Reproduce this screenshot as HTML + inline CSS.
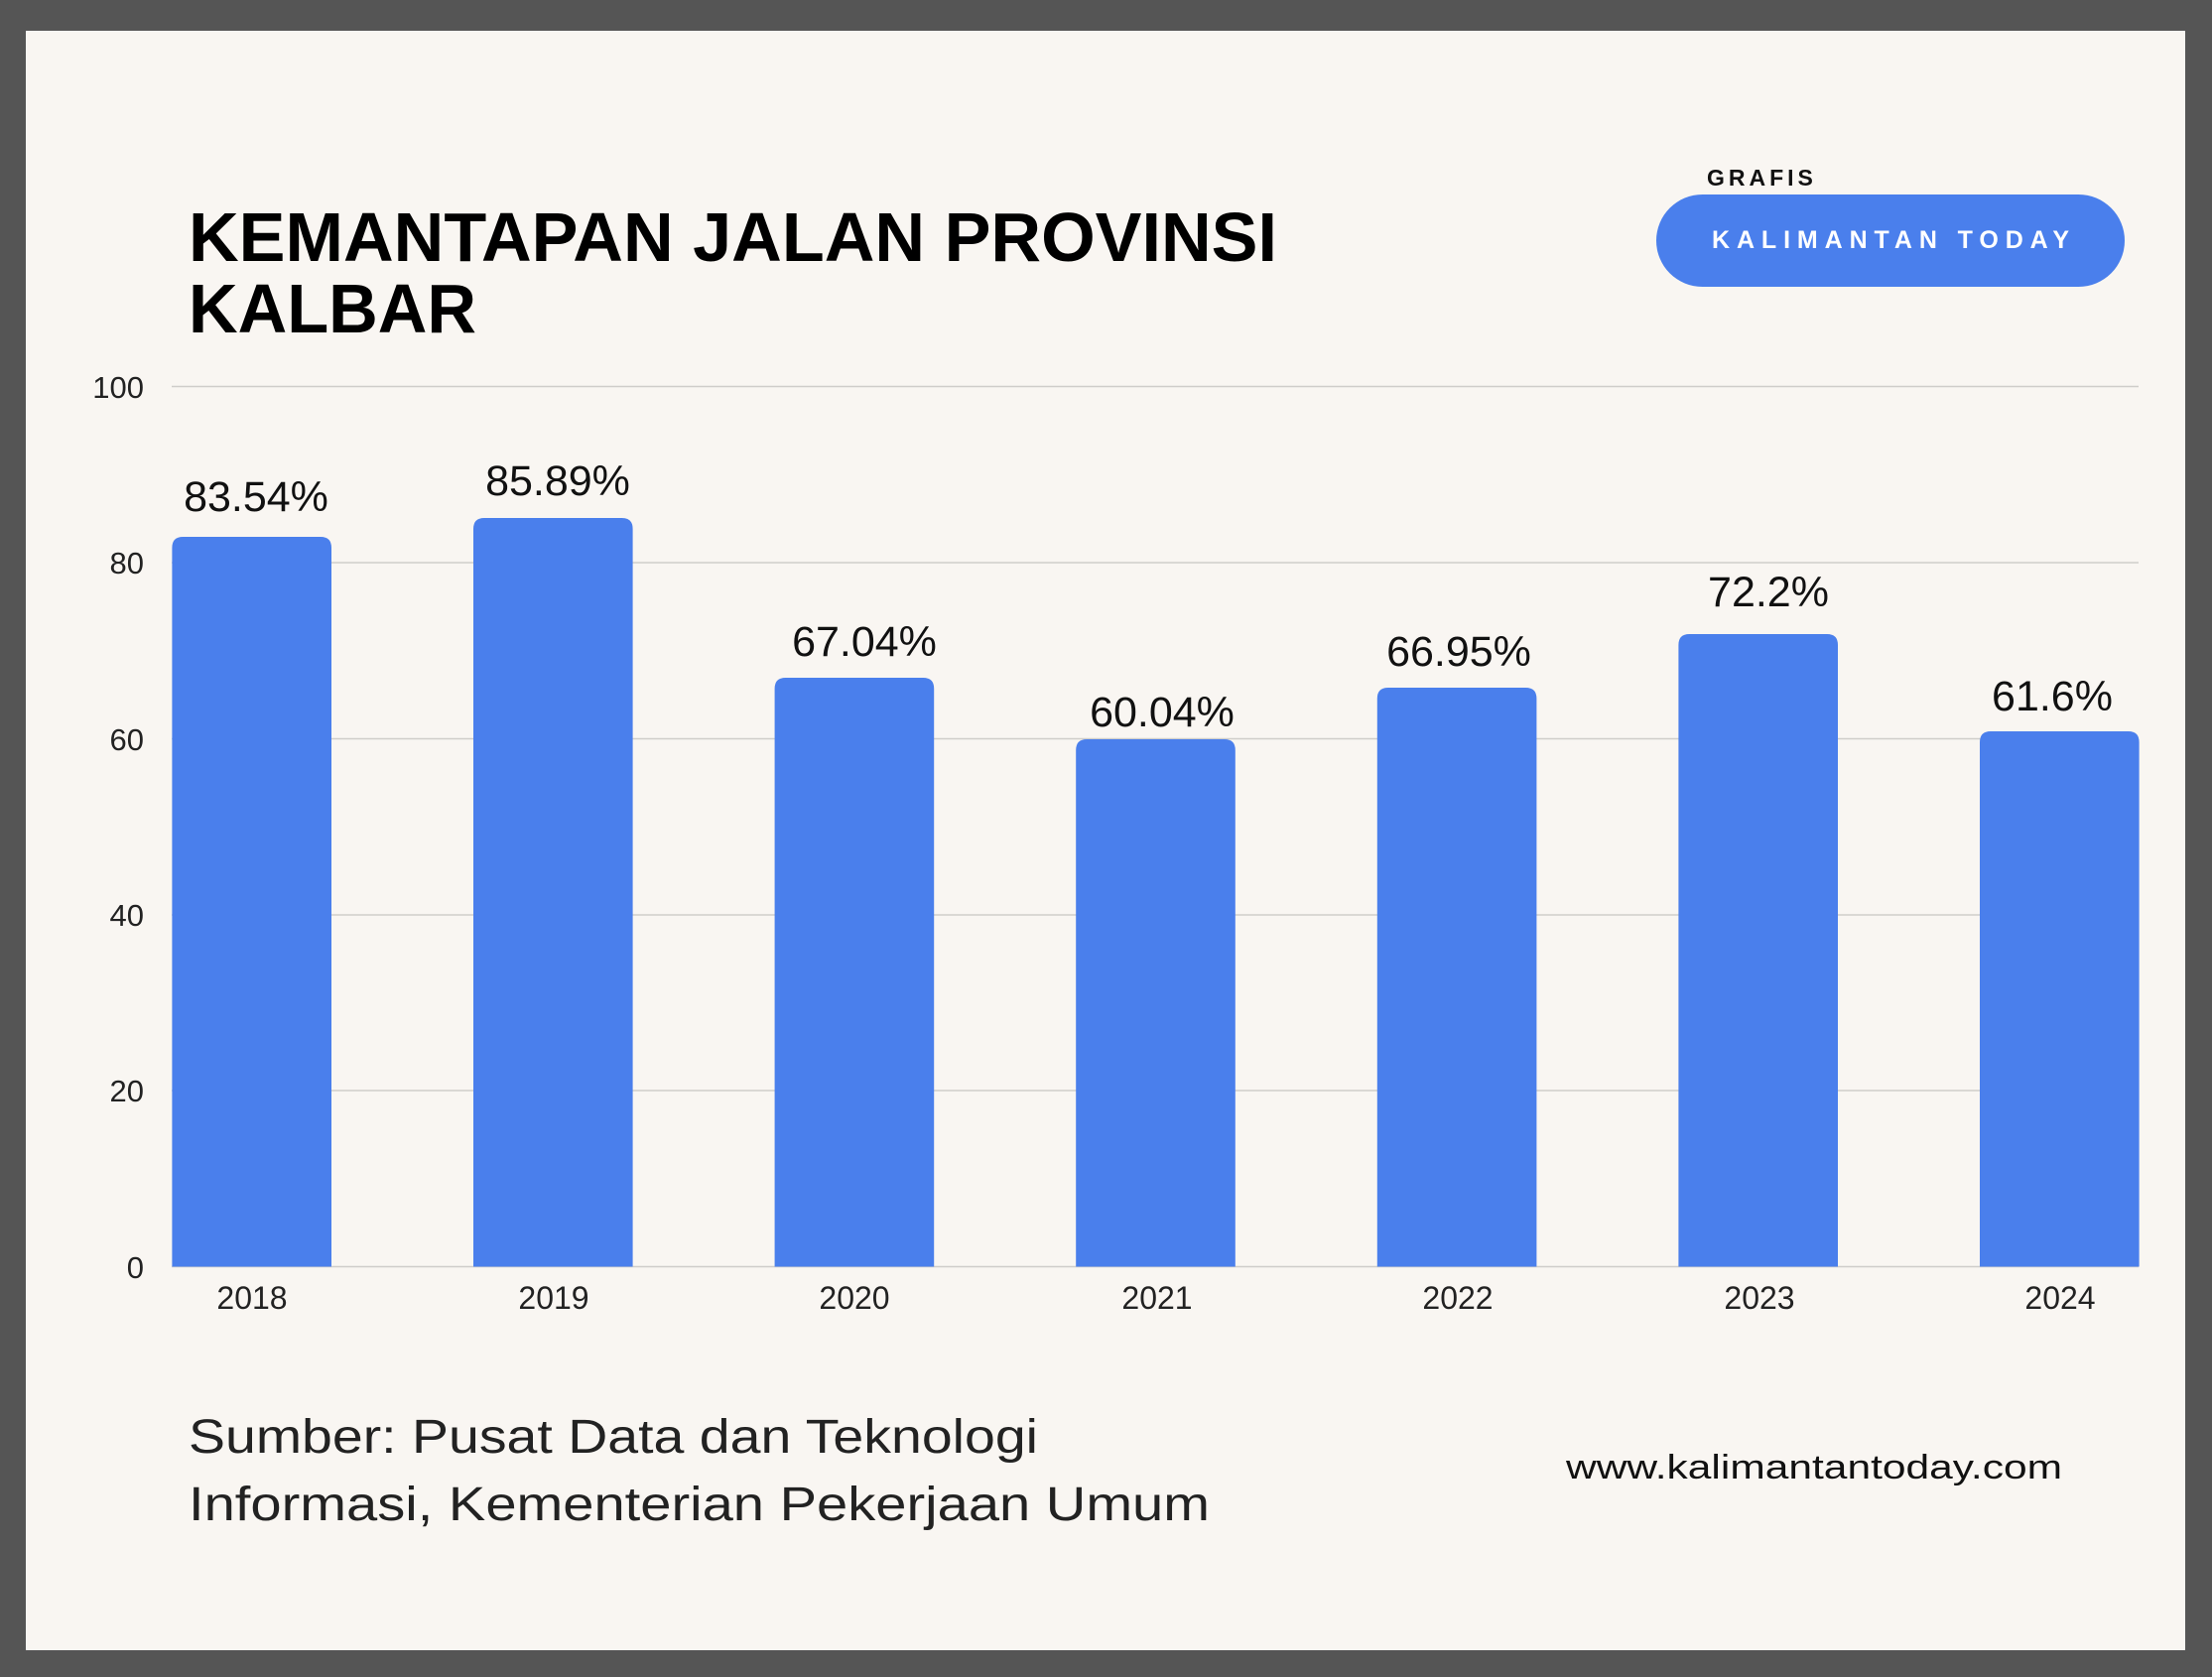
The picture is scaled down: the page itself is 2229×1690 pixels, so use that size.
<!DOCTYPE html>
<html><head><meta charset="utf-8"><style>
html,body{margin:0;padding:0;background:#555555;}
svg{display:block;}
</style></head><body>
<svg width="2229" height="1690" viewBox="0 0 2229 1690" xmlns="http://www.w3.org/2000/svg" font-family="Liberation Sans, sans-serif">
<rect x="0" y="0" width="2229" height="1690" fill="#555555"/>
<rect x="26" y="31" width="2176" height="1632" fill="#f9f6f2"/>
<text x="190" y="263" font-size="70" font-weight="bold" fill="#000" textLength="1097" lengthAdjust="spacingAndGlyphs">KEMANTAPAN JALAN PROVINSI</text>
<text x="190" y="335" font-size="70" font-weight="bold" fill="#000" textLength="290" lengthAdjust="spacingAndGlyphs">KALBAR</text>
<text x="1720" y="187" font-size="23" font-weight="bold" fill="#111" letter-spacing="4">GRAFIS</text>
<rect x="1669" y="196" width="472" height="93" rx="46.5" fill="#4a7fec"/>
<text x="1905" y="250" font-size="25" font-weight="bold" fill="#fff" text-anchor="middle" textLength="360" lengthAdjust="spacing">KALIMANTAN TODAY</text>
<g stroke="#cfcdca" stroke-width="1.5">
<line x1="173" y1="389.5" x2="2155" y2="389.5"/>
<line x1="173" y1="567" x2="2155" y2="567"/>
<line x1="173" y1="744.5" x2="2155" y2="744.5"/>
<line x1="173" y1="922" x2="2155" y2="922"/>
<line x1="173" y1="1099" x2="2155" y2="1099"/>
<line x1="173" y1="1276.5" x2="2155" y2="1276.5"/>
</g>
<g font-size="31" fill="#222" text-anchor="end">
<text x="145" y="401">100</text>
<text x="145" y="578">80</text>
<text x="145" y="756">60</text>
<text x="145" y="933">40</text>
<text x="145" y="1110">20</text>
<text x="145" y="1288">0</text>
</g>
<g fill="#4a7fec">
<path d="M173.4 1276.5 V552 q0 -11 11 -11 H323 q11 0 11 11 V1276.5 Z"/>
<path d="M477 1276.5 V533 q0 -11 11 -11 H626.6 q11 0 11 11 V1276.5 Z"/>
<path d="M780.6 1276.5 V694 q0 -11 11 -11 H930.2 q11 0 11 11 V1276.5 Z"/>
<path d="M1084.2 1276.5 V756 q0 -11 11 -11 H1233.8 q11 0 11 11 V1276.5 Z"/>
<path d="M1387.8 1276.5 V704 q0 -11 11 -11 H1537.4 q11 0 11 11 V1276.5 Z"/>
<path d="M1691.4 1276.5 V650 q0 -11 11 -11 H1841 q11 0 11 11 V1276.5 Z"/>
<path d="M1995 1276.5 V748 q0 -11 11 -11 H2144.6 q11 0 11 11 V1276.5 Z"/>
</g>
<g font-size="43" fill="#111" text-anchor="middle">
<text x="258" y="515">83.54%</text>
<text x="562" y="499">85.89%</text>
<text x="871" y="661">67.04%</text>
<text x="1171" y="732">60.04%</text>
<text x="1470" y="671">66.95%</text>
<text x="1782" y="611">72.2%</text>
<text x="2068" y="716">61.6%</text>
</g>
<g font-size="32" fill="#222" text-anchor="middle">
<text x="254" y="1319">2018</text>
<text x="558" y="1319">2019</text>
<text x="861" y="1319">2020</text>
<text x="1166" y="1319">2021</text>
<text x="1469" y="1319">2022</text>
<text x="1773" y="1319">2023</text>
<text x="2076" y="1319">2024</text>
</g>
<text x="190" y="1464" font-size="48" fill="#222" textLength="856" lengthAdjust="spacingAndGlyphs">Sumber: Pusat Data dan Teknologi</text>
<text x="190" y="1532" font-size="48" fill="#222" textLength="1029" lengthAdjust="spacingAndGlyphs">Informasi, Kementerian Pekerjaan Umum</text>
<text x="2078" y="1490" font-size="34" fill="#111" text-anchor="end" textLength="500" lengthAdjust="spacingAndGlyphs">www.kalimantantoday.com</text>
</svg>
</body></html>
